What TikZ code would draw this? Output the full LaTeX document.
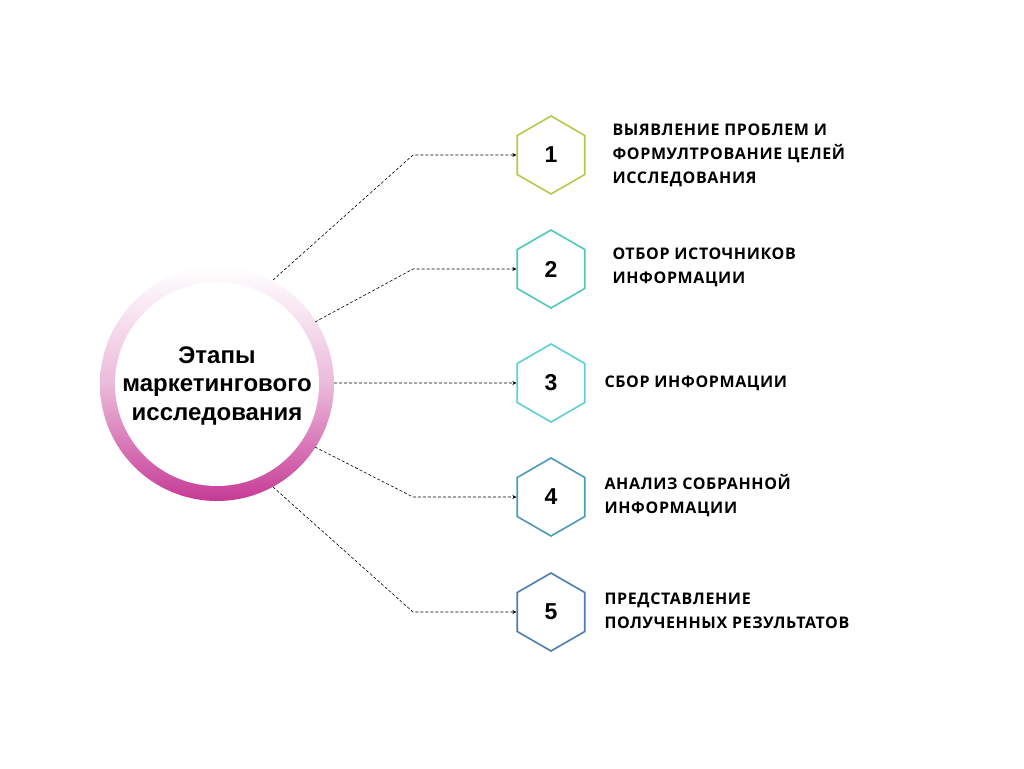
\documentclass[tikz,border=0pt]{standalone}
\usepackage{fontspec}
\setmainfont{Liberation Sans}
\newfontfamily\lab[LetterSpace=4]{Open Sans}
\usetikzlibrary{shapes.geometric,arrows.meta}
\definecolor{mag}{RGB}{198,58,150}
\definecolor{hA}{RGB}{181,201,74}
\definecolor{hB}{RGB}{79,201,185}
\definecolor{hC}{RGB}{93,207,214}
\definecolor{hD}{RGB}{74,155,184}
\definecolor{hE}{RGB}{77,125,176}
\tikzset{
 hex/.style={draw=#1, line width=1.6pt, regular polygon, regular polygon sides=6, shape border rotate=30, minimum size=78pt, inner sep=0pt, font=\fontsize{23}{26}\selectfont\bfseries},
 lbl/.style={anchor=west, align=left, font=\lab\fontsize{16}{24}\selectfont\bfseries},
 conn/.style={densely dashed, line width=0.6pt, -{Stealth[length=4pt,width=4pt]}}
}
\begin{document}
\begin{tikzpicture}[x=1pt,y=-1pt]
\useasboundingbox (0,0) rectangle (1024,768);
\fill[white] (0,0) rectangle (1024,768);
\shade[top color=white, bottom color=mag, middle color=mag!35] (217,384) circle (117);
\fill[white] (217,384) circle (102);
\node[align=center, font=\fontsize{24}{28.5}\selectfont\bfseries] (c) at (217,386) {Этапы\\маркетингового\\исследования};
\coordinate (s1) at (273,280);
\coordinate (s2) at (315,322);
\coordinate (s3) at (334,383);
\coordinate (s4) at (315,447);
\coordinate (s5) at (273,487);
\node[hex=hA] (h1) at (551,155) {1};
\node[hex=hB] (h2) at (551,269) {2};
\node[hex=hC] (h3) at (551,383) {3};
\node[hex=hD] (h4) at (551,497) {4};
\node[hex=hE] (h5) at (551,612) {5};
\draw[conn] (s1) -- (413,155) -- (h1.west);
\draw[conn] (s2) -- (413,269) -- (h2.west);
\draw[conn] (s3) -- (h3.west);
\draw[conn] (s4) -- (413,497) -- (h4.west);
\draw[conn] (s5) -- (413,612) -- (h5.west);
\node[lbl] (t1) at (609,155) {ВЫЯВЛЕНИЕ ПРОБЛЕМ И\\ФОРМУЛТРОВАНИЕ ЦЕЛЕЙ\\ИССЛЕДОВАНИЯ};
\node[lbl] (t2) at (609,267) {ОТБОР ИСТОЧНИКОВ\\ИНФОРМАЦИИ};
\node[lbl] (t3) at (601,383) {СБОР ИНФОРМАЦИИ};
\node[lbl] (t4) at (601,496) {АНАЛИЗ СОБРАННОЙ\\ИНФОРМАЦИИ};
\node[lbl] (t5) at (601,611) {ПРЕДСТАВЛЕНИЕ\\ПОЛУЧЕННЫХ РЕЗУЛЬТАТОВ};
\end{tikzpicture}
\end{document}
